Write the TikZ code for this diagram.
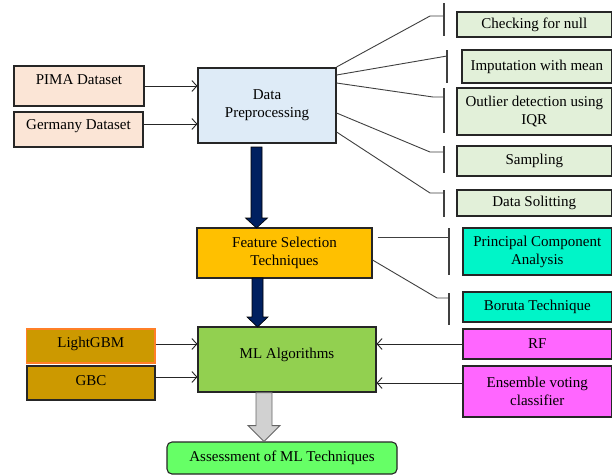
\documentclass[tikz,border=0pt]{standalone}
\usepackage{fontspec}
\setmainfont{Liberation Serif}
\usetikzlibrary{arrows.meta,calc}
\definecolor{peach}{HTML}{FBE5D6}
\definecolor{lblue}{HTML}{DEEBF7}
\definecolor{lgreen}{HTML}{E2F0D9}
\definecolor{amber}{HTML}{FFC000}
\definecolor{turq}{HTML}{00F5C8}
\definecolor{gold}{HTML}{CC9900}
\definecolor{orangeline}{HTML}{FF7F27}
\definecolor{mlgreen}{HTML}{92D050}
\definecolor{magent}{HTML}{FF66FF}
\definecolor{assgreen}{HTML}{66FF66}
\definecolor{navy}{HTML}{002060}
\definecolor{boxline}{HTML}{262626}
\definecolor{conn}{HTML}{404040}
\newcommand\upby[2]{\raisebox{#1}[\height][\depth]{#2}}
\begin{document}
\begin{tikzpicture}[x=1pt,y=-1pt,
  box/.style={draw=boxline, line width=1.1pt, align=center, inner sep=0pt,
    font=\fontsize{15}{18}\selectfont},
  sz/.style 2 args={minimum width=#1pt, minimum height=#2pt},
  link/.style={draw=conn, line width=0.9pt},
  barline/.style={draw=conn, line width=1.1pt},
  inarrow/.style={draw=boxline, line width=0.9pt, -{Straight Barb[length=5pt,width=11pt,line width=0.9pt]}},
  navyarrow/.style={fill=navy, draw=black, line width=0.6pt},
  grayarrow/.style={fill=black!18, draw=black!60, line width=0.9pt}
]
\useasboundingbox (0,0) rectangle (612,475);
\fill[white] (0,0) rectangle (612,475);

% inputs
\node[box, sz={130}{40}, fill=peach] (pima) at (79,86) {\upby{6pt}{PIMA Dataset}};
\node[box, sz={129}{35}, fill=peach] (germ) at (78.5,129.5) {\upby{3pt}{Germany Dataset}};
\node[box, sz={138}{75}, fill=lblue] (pre) at (267,105.5) {Data\\Preprocessing};

% preprocessing steps
\node[box, sz={154.5}{25}, fill=lgreen] (chk) at (534.25,24.5) {Checking for null};
\node[box, sz={149.5}{33}, fill=lgreen] (imp) at (536.75,66.5) {Imputation with mean};
\node[box, sz={154.5}{47}, fill=lgreen] (outl) at (534.25,111.5) {Outlier detection using\\IQR};
\node[box, sz={154.5}{30}, fill=lgreen] (samp) at (534.25,161) {Sampling};
\node[box, sz={154.5}{26}, fill=lgreen] (split) at (534.25,203) {Data Solitting};

% feature selection
\node[box, sz={175}{50}, fill=amber] (fs) at (284.5,253) {Feature Selection\\Techniques};
\node[box, sz={148.5}{47}, fill=turq] (pca) at (537.25,251.5) {Principal Component\\Analysis};
\node[box, sz={148.5}{30}, fill=turq] (bor) at (537.25,307) {Boruta Technique};

% ML
\node[box, sz={128.5}{34}, fill=gold, draw=orangeline] (lgbm) at (90.75,346) {\upby{2pt}{LightGBM}};
\node[box, sz={128}{34}, fill=gold] (gbc) at (91,383) {\upby{2pt}{GBC}};
\node[box, sz={178}{65}, fill=mlgreen] (ml) at (287,359.5) {\upby{5pt}{ML Algorithms}};
\node[box, sz={148.5}{30}, fill=magent] (rf) at (537.25,344) {RF};
\node[box, sz={148.5}{51}, fill=magent] (ens) at (537.25,391.5) {Ensemble voting\\classifier};
\node[box, sz={230}{32}, fill=assgreen, rounded corners=5pt] (ass) at (282,458) {Assessment of ML Techniques};

% input arrows
\draw[inarrow] (pima.east) -- (pre.west |- pima.east);
\draw[inarrow] (germ.east |- 0,124) -- (pre.west |- 0,124);
\draw[inarrow] (lgbm.east |- 0,344) -- (ml.west |- 0,344);
\draw[inarrow] (gbc.east |- 0,377) -- (ml.west |- 0,377);
\draw[inarrow] (rf.west) -- (ml.east |- rf.west);
\draw[inarrow] (ens.west |- 0,383) -- (ml.east |- 0,383);

% preprocessing links
\coordinate (b1) at (444,16);
\coordinate (b2) at (447,56);
\coordinate (b3) at (444,97);
\coordinate (b4) at (444,152);
\coordinate (b5) at (444,193);
\draw[link] (pre.east |- 0,67) -- (430,16) -- (b1);
\draw[link] (pre.east |- 0,75) -- (b2);
\draw[link] (pre.east |- 0,83) -- (433,97) -- (b3);
\draw[link] (pre.east |- 0,113) -- (430,152) -- (b4);
\draw[link] (pre.east |- 0,132) -- (430,193) -- (b5);
\draw[barline] (444,3) -- (444,36);
\draw[barline] (447,50) -- (447,83);
\draw[barline] (444,88) -- (444,133);
\draw[barline] (444,146) -- (444,173);
\draw[barline] (444,190) -- (444,217);

% feature selection links
\coordinate (b6) at (449,237);
\coordinate (b7) at (449,298);
\draw[link] ($(fs.east |- 0,237)+(5,0)$) -- (b6);
\draw[link] (fs.east |- 0,260) -- (437,298) -- (b7);
\draw[barline] (449,228) -- (449,275);
\draw[barline] (449,293) -- (449,325);

% main flow arrows (pre -> fs, fs -> ml)
\draw[navyarrow] (251,147) -- (262,147) -- (262,218) -- (267.5,218)
  -- (256.5,228) -- (245.5,218) -- (251,218) -- cycle;
\draw[navyarrow] (252,278) -- (263,278) -- (263,317) -- (268,317)
  -- (257.5,327) -- (247,317) -- (252,317) -- cycle;

% gray block arrow (ml -> ass)
\draw[grayarrow]
  ($(ml.south)+(-31,0)$) -- ($(ml.south)+(-15,0)$) -- ($(ml.south)+(-15,33)$)
  -- ($(ml.south)+(-7,33)$) -- ($(ass.north)+(-18,0)$) -- ($(ml.south)+(-39,33)$)
  -- ($(ml.south)+(-31,33)$) -- cycle;
\end{tikzpicture}
\end{document}
